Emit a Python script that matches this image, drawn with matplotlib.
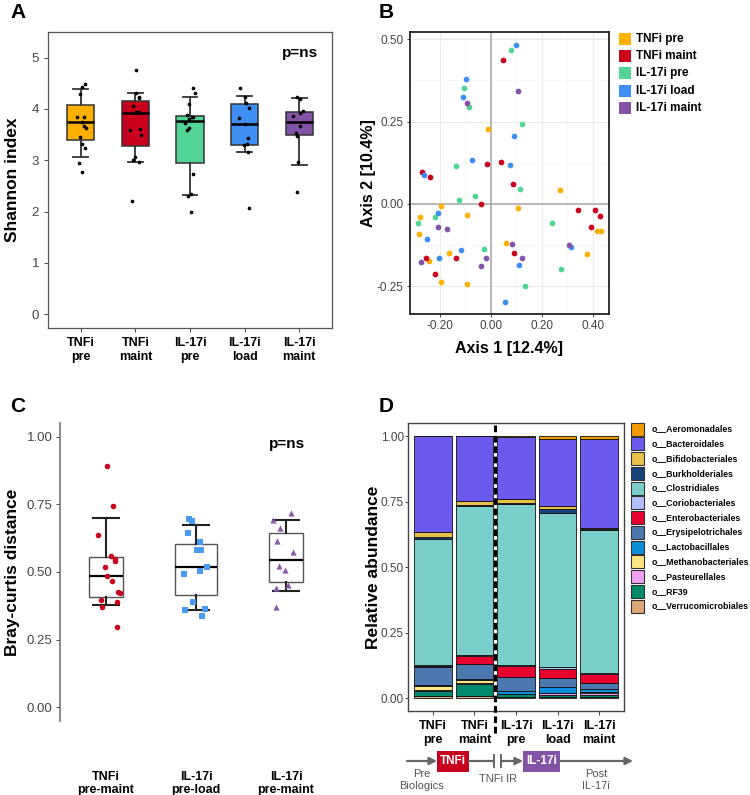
import matplotlib
matplotlib.use('Agg')
import matplotlib.pyplot as plt
import numpy as np
from matplotlib.patches import Rectangle

plt.rcParams['font.family'] = ['Liberation Sans', 'DejaVu Sans']

# ---------------- DATA ----------------
# Panel A: Shannon index
groups_A = ["TNFi\npre", "TNFi\nmaint", "IL-17i\npre", "IL-17i\nload", "IL-17i\nmaint"]
colors_A = ["#FDB000", "#C8001E", "#52D494", "#3F8EF2", "#8453A8"]
q1_A = [3.39, 3.28, 2.94, 3.30, 3.49]
med_A = [3.74, 3.92, 3.77, 3.70, 3.75]
q3_A = [4.07, 4.15, 3.87, 4.09, 3.95]
wlo_A = [3.07, 2.96, 2.32, 3.17, 2.90]
whi_A = [4.39, 4.31, 4.24, 4.26, 4.21]

shannon_tnfi_pre = [4.49, 4.42, 4.29, 3.84, 3.84, 3.74, 3.66, 3.62, 3.46, 3.32, 3.24, 2.95, 2.77]
jit_tnfi_pre = [0.08, 0.02, -0.02, -0.06, 0.05, 0.02, 0.05, 0.09, -0.01, 0.03, 0.08, -0.04, 0.02]
shannon_tnfi_maint = [4.75, 4.31, 4.24, 4.21, 4.06, 3.95, 3.95, 3.59, 3.61, 3.49, 3.07, 3.01, 2.96, 2.20]
jit_tnfi_maint = [0.01, 0.02, 0.06, 0.07, -0.05, 0.01, 0.07, -0.10, 0.09, 0.10, 0.0, -0.04, 0.06, -0.07]
shannon_il17_pre = [4.40, 4.31, 4.09, 3.89, 3.84, 3.85, 3.80, 3.72, 3.63, 3.59, 2.73, 2.34, 2.30, 1.99]
jit_il17_pre = [0.06, 0.09, -0.01, -0.06, 0.03, 0.06, -0.02, -0.09, -0.01, -0.06, 0.05, 0.02, -0.03, 0.02]
shannon_il17_load = [4.40, 4.24, 4.11, 4.01, 3.83, 3.70, 3.43, 3.32, 3.29, 3.17, 2.06]
jit_il17_load = [-0.09, 0.01, 0.03, 0.08, -0.10, 0.01, 0.06, 0.04, -0.02, 0.06, 0.08]
shannon_il17_maint = [4.23, 4.20, 3.96, 3.92, 3.86, 3.66, 3.53, 3.48, 2.96, 2.39]
jit_il17_maint = [-0.05, 0.01, 0.06, 0.02, -0.11, 0.02, -0.06, -0.05, -0.03, -0.05]

# Panel B: PCoA
legend_B = ["TNFi pre", "TNFi maint", "IL-17i pre", "IL-17i load", "IL-17i maint"]
ax1_tnfi_pre = [-0.009, 0.272, -0.196, -0.277, -0.093, 0.108, -0.280, 0.060, -0.165, -0.241, -0.196, -0.092, 0.376, 0.417, 0.431]
ax2_tnfi_pre = [0.226, 0.041, -0.008, -0.041, -0.033, -0.014, -0.093, -0.118, -0.149, -0.175, -0.239, -0.245, -0.152, -0.084, -0.082]
ax1_tnfi_maint = [0.050, -0.016, 0.039, 0.086, -0.268, -0.238, -0.037, 0.341, 0.410, 0.427, 0.393, 0.093, -0.137, -0.255, -0.217]
ax2_tnfi_maint = [0.438, 0.122, 0.126, 0.059, 0.096, 0.081, 0.000, -0.018, -0.018, -0.036, -0.071, -0.149, -0.164, -0.165, -0.214]
ax1_il17_pre = [0.081, -0.103, -0.084, 0.124, -0.137, -0.060, -0.125, 0.114, -0.284, -0.218, -0.027, 0.239, 0.275, 0.133]
ax2_il17_pre = [0.467, 0.353, 0.295, 0.243, 0.114, 0.025, 0.010, 0.046, -0.057, -0.041, -0.138, -0.057, -0.197, -0.249]
ax1_il17_load = [0.098, -0.095, -0.110, 0.093, -0.072, 0.077, -0.261, -0.207, -0.251, -0.116, -0.204, 0.110, 0.315, 0.055]
ax2_il17_load = [0.484, 0.378, 0.323, 0.206, 0.133, 0.119, 0.086, -0.027, -0.106, -0.142, -0.164, -0.187, -0.132, -0.298]
ax1_il17_maint = [0.107, -0.094, -0.208, -0.170, 0.084, 0.122, -0.017, -0.038, -0.271, 0.307]
ax2_il17_maint = [0.342, 0.305, -0.072, -0.078, -0.123, -0.164, -0.164, -0.189, -0.177, -0.126]

# Panel C: Bray-Curtis
groups_C = ["TNFi\npre-maint", "IL-17i\npre-load", "IL-17i\npre-maint"]
colors_C = ["#C8001E", "#4A9BF0", "#8A5AAA"]
markers_C = ["o", "s", "^"]
q1_C = [0.409, 0.416, 0.462]
med_C = [0.485, 0.517, 0.544]
q3_C = [0.557, 0.602, 0.645]
wlo_C = [0.379, 0.358, 0.431]
whi_C = [0.701, 0.674, 0.692]
bc_tnfi = [0.892, 0.744, 0.637, 0.560, 0.549, 0.542, 0.517, 0.485, 0.467, 0.425, 0.424, 0.398, 0.389, 0.371, 0.298]
jit_bc_tnfi = [0.015, 0.074, -0.085, 0.056, 0.104, 0.104, -0.007, 0.015, 0.067, 0.133, 0.152, -0.056, 0.122, -0.044, 0.122]
bc_il17_load = [0.697, 0.687, 0.644, 0.611, 0.583, 0.581, 0.518, 0.502, 0.494, 0.390, 0.361, 0.362, 0.337]
jit_bc_il17_load = [-0.078, -0.048, -0.085, 0.048, 0.007, 0.059, 0.126, 0.044, -0.137, -0.037, -0.126, 0.096, 0.067]
bc_il17_maint = [0.693, 0.718, 0.661, 0.615, 0.573, 0.522, 0.506, 0.451, 0.441, 0.371]
jit_bc_il17_maint = [-0.144, 0.056, -0.070, -0.100, 0.081, -0.078, -0.007, 0.019, -0.115, -0.115]

# Panel D: relative abundance (bars: TNFi pre, TNFi maint, IL-17i pre, IL-17i load, IL-17i maint)
taxa = ["o__Aeromonadales", "o__Bacteroidales", "o__Bifidobacteriales", "o__Burkholderiales",
        "o__Clostridiales", "o__Coriobacteriales", "o__Enterobacteriales", "o__Erysipelotrichales",
        "o__Lactobacillales", "o__Methanobacteriales", "o__Pasteurellales", "o__RF39",
        "o__Verrucomicrobiales"]
taxa_colors = ["#F29B00", "#6C5AEE", "#E8C24A", "#15427A", "#7ACFCB", "#B3BEFF", "#E8002F",
               "#4A78AF", "#0A90D8", "#FFE680", "#F0A0F0", "#00896A", "#DDA877"]
aeromonadales = [0.000, 0.000, 0.003, 0.010, 0.012]
bacteroidales = [0.367, 0.249, 0.235, 0.257, 0.340]
bifidobacteriales = [0.018, 0.012, 0.017, 0.010, 0.002]
burkholderiales = [0.007, 0.006, 0.005, 0.015, 0.005]
clostridiales = [0.481, 0.567, 0.611, 0.588, 0.543]
coriobacteriales = [0.003, 0.004, 0.004, 0.008, 0.006]
enterobacteriales = [0.003, 0.032, 0.045, 0.035, 0.032]
erysipelotrichales = [0.070, 0.055, 0.050, 0.033, 0.025]
lactobacillales = [0.004, 0.004, 0.012, 0.022, 0.012]
methanobacteriales = [0.015, 0.012, 0.001, 0.003, 0.002]
pasteurellales = [0.002, 0.004, 0.002, 0.005, 0.007]
rf39 = [0.022, 0.045, 0.008, 0.008, 0.008]
verrucomicrobiales = [0.008, 0.010, 0.007, 0.006, 0.006]

# ---------------- FIGURE ----------------
W, H = 750, 795
fig = plt.figure(figsize=(W / 100, H / 100), dpi=100)


def ax_px(x0, y0, x1, y1):
    return fig.add_axes([x0 / W, 1 - y1 / H, (x1 - x0) / W, (y1 - y0) / H])


TICK_C = "#444444"
LBL_FS = 12.5

# ---------- Panel A ----------
axA = ax_px(48, 32, 332, 328)
posA = np.arange(1, 6)
statsA = [dict(q1=a, med=b, q3=c, whislo=d, whishi=e, fliers=[])
          for a, b, c, d, e in zip(q1_A, med_A, q3_A, wlo_A, whi_A)]
bpA = axA.bxp(statsA, positions=posA, widths=0.5, patch_artist=True, capwidths=0.27,
              boxprops=dict(edgecolor="#333333", linewidth=1.1),
              medianprops=dict(color="black", linewidth=1.8),
              whiskerprops=dict(color="#333333", linewidth=1.3),
              capprops=dict(color="#333333", linewidth=1.3), zorder=2)
for patch, c in zip(bpA["boxes"], colors_A):
    patch.set_facecolor(c)
pointsA = [(shannon_tnfi_pre, jit_tnfi_pre), (shannon_tnfi_maint, jit_tnfi_maint),
           (shannon_il17_pre, jit_il17_pre), (shannon_il17_load, jit_il17_load),
           (shannon_il17_maint, jit_il17_maint)]
for p, (vals, jit) in zip(posA, pointsA):
    axA.scatter(p + np.array(jit), vals, s=7, color="black", zorder=4, linewidths=0)
axA.set_xlim(0.4, 5.6)
axA.set_ylim(-0.27, 5.5)
axA.set_yticks([0, 1, 2, 3, 4, 5])
axA.set_xticks(posA)
axA.set_xticklabels(groups_A, fontsize=9, fontweight="bold", color="black", linespacing=1.25)
axA.tick_params(axis="y", labelsize=9.5, colors=TICK_C, length=3, width=0.7)
axA.tick_params(axis="x", colors=TICK_C, length=3, width=0.7, labelcolor="black")
for s in axA.spines.values():
    s.set_color("#555555")
    s.set_linewidth(0.9)
axA.text(0.95, 0.93, "p=ns", transform=axA.transAxes, ha="right", va="center",
         fontsize=11, fontweight="bold")

# ---------- Panel B ----------
axB = ax_px(410, 32, 609, 314)
axB.set_xlim(-0.316, 0.464)
axB.set_ylim(-0.335, 0.522)
axB.set_xticks([-0.2, 0.0, 0.2, 0.4])
axB.set_xticklabels(["-0.20", "0.00", "0.20", "0.40"])
axB.set_yticks([-0.25, 0.0, 0.25, 0.5])
axB.set_yticklabels(["-0.25", "0.00", "0.25", "0.50"])
axB.set_xticks([-0.3, -0.1, 0.1, 0.3], minor=True)
axB.set_yticks([-0.125, 0.125, 0.375], minor=True)
axB.grid(True, which="major", color="#EBEBEB", linewidth=0.8, zorder=0)
axB.grid(True, which="minor", color="#F4F4F4", linewidth=0.5, zorder=0)
axB.set_axisbelow(True)
axB.axhline(0, color="#A8A8A8", linewidth=1.1, zorder=1)
axB.axvline(0, color="#A8A8A8", linewidth=1.1, zorder=1)
pcoa = [(ax1_tnfi_pre, ax2_tnfi_pre), (ax1_tnfi_maint, ax2_tnfi_maint),
        (ax1_il17_pre, ax2_il17_pre), (ax1_il17_load, ax2_il17_load),
        (ax1_il17_maint, ax2_il17_maint)]
for (xs, ys), c in zip(pcoa, colors_A):
    axB.scatter(xs, ys, s=17, color=c, linewidths=0, zorder=3)
axB.tick_params(which="major", labelsize=8.5, colors=TICK_C, length=2.5, width=0.7, pad=2)
axB.tick_params(which="minor", length=0)
for s in axB.spines.values():
    s.set_color("#222222")
    s.set_linewidth(1.3)

# ---------- Panel C ----------
axC = ax_px(60, 423, 332, 721)
posC = np.arange(1, 4)
statsC = [dict(q1=a, med=b, q3=c, whislo=d, whishi=e, fliers=[])
          for a, b, c, d, e in zip(q1_C, med_C, q3_C, wlo_C, whi_C)]
widthsC = [0.38, 0.47, 0.37]
axC.bxp(statsC, positions=posC, widths=widthsC, patch_artist=True, capwidths=0.28,
        boxprops=dict(facecolor="white", edgecolor="#555555", linewidth=1.0),
        medianprops=dict(color="black", linewidth=1.6),
        whiskerprops=dict(color="#222222", linewidth=1.5),
        capprops=dict(color="#222222", linewidth=1.5), zorder=2)
pointsC = [(bc_tnfi, jit_bc_tnfi), (bc_il17_load, jit_bc_il17_load), (bc_il17_maint, jit_bc_il17_maint)]
for p, (vals, jit), c, m in zip(posC, pointsC, colors_C, markers_C):
    axC.scatter(p + np.array(jit), vals, s=16 if m != "^" else 20, color=c, marker=m,
                linewidths=0, zorder=4)
axC.set_xlim(0.49, 3.51)
axC.set_ylim(-0.05, 1.05)
axC.set_yticks([0.0, 0.25, 0.5, 0.75, 1.0])
axC.set_yticklabels(["0.00", "0.25", "0.50", "0.75", "1.00"])
axC.set_xticks(posC)
axC.set_xticklabels(groups_C, fontsize=9, fontweight="bold", linespacing=1.12)
axC.tick_params(axis="y", labelsize=9.5, colors=TICK_C, length=3, width=0.7, pad=2.5)
axC.tick_params(axis="x", length=0, pad=36, labelcolor="black")
for k in ["top", "right", "bottom"]:
    axC.spines[k].set_visible(False)
axC.spines["left"].set_color("#777777")
axC.spines["left"].set_linewidth(1.2)
axC.text(0.90, 0.93, "p=ns", transform=axC.transAxes, ha="right", va="center",
         fontsize=11, fontweight="bold")

# ---------- Panel D ----------
axD = ax_px(408, 423, 624, 711)
posD = np.arange(1, 6)
stack_series = [verrucomicrobiales, rf39, pasteurellales, methanobacteriales, lactobacillales,
                erysipelotrichales, enterobacteriales, coriobacteriales, clostridiales,
                burkholderiales, bifidobacteriales, bacteroidales, aeromonadales]
stack_colors = taxa_colors[::-1]
bottom = np.zeros(5)
for vals, c in zip(stack_series, stack_colors):
    axD.bar(posD, vals, bottom=bottom, width=0.9, color=c, edgecolor="#111111",
            linewidth=0.6, zorder=2)
    bottom += np.array(vals)
axD.plot([2.5, 2.5], [-0.13, 1.05], color="black", linestyle=(0, (2.2, 1.2)),
         linewidth=2.2, clip_on=False, zorder=5)
axD.set_xlim(0.4, 5.6)
axD.set_ylim(-0.048, 1.05)
axD.set_yticks([0.0, 0.25, 0.5, 0.75, 1.0])
axD.set_yticklabels(["0.00", "0.25", "0.50", "0.75", "1.00"])
axD.set_xticks(posD)
axD.set_xticklabels(groups_A, fontsize=9, fontweight="bold", linespacing=1.25)
axD.tick_params(axis="y", labelsize=8.5, colors=TICK_C, length=2, width=0.7, pad=1)
axD.tick_params(axis="x", colors=TICK_C, length=3, width=0.7, labelcolor="black")
for s in axD.spines.values():
    s.set_color("#444444")
    s.set_linewidth(1.0)

# ---------- Overlay (labels, legends, timeline) ----------
axo = fig.add_axes([0, 0, 1, 1], zorder=10)
axo.set_xlim(0, W)
axo.set_ylim(H, 0)
axo.axis("off")

for lbl, (x, y) in zip("ABCD", [(18, 13), (386, 13), (18, 406), (386, 406)]):
    axo.text(x, y, lbl, fontsize=15, fontweight="bold", ha="center", va="center")

axo.text(13, 180, "Shannon index", rotation=90, fontsize=LBL_FS, fontweight="bold",
         ha="center", va="center")
axo.text(368, 173, "Axis 2 [10.4%]", rotation=90, fontsize=11.5, fontweight="bold",
         ha="center", va="center")
axo.text(509, 348, "Axis 1 [12.4%]", fontsize=11.5, fontweight="bold", ha="center", va="center")
axo.text(13, 572, "Bray-curtis distance", rotation=90, fontsize=LBL_FS, fontweight="bold",
         ha="center", va="center")
axo.text(373, 567, "Relative abundance", rotation=90, fontsize=LBL_FS, fontweight="bold",
         ha="center", va="center")

# Legend B
for i, (name, c) in enumerate(zip(legend_B, colors_A)):
    yc = 39 + i * 17.2
    axo.add_patch(Rectangle((619, yc - 6), 12, 12, facecolor=c, edgecolor="none"))
    axo.text(636, yc, name, fontsize=8.5, fontweight="bold", ha="left", va="center")

# Legend D
for i, (name, c) in enumerate(zip(taxa, taxa_colors)):
    yc = 429 + i * 14.75
    axo.add_patch(Rectangle((631, yc - 6.5), 13, 13, facecolor=c, edgecolor="#333333",
                            linewidth=0.8))
    axo.text(652, yc, name, fontsize=6.3, fontweight="bold", ha="left", va="center")

# Timeline
GRAY = "#666666"
ty = 761
arrow = dict(arrowstyle="-|>", color=GRAY, lw=1.6, mutation_scale=11, shrinkA=0, shrinkB=0)
axo.annotate("", xy=(437, ty), xytext=(407, ty), arrowprops=arrow)
axo.add_patch(Rectangle((437, 751), 32, 21, facecolor="#C8001E", edgecolor="none"))
axo.text(453, ty + 0.5, "TNFi", color="white", fontsize=8.5, fontweight="bold",
         ha="center", va="center")
axo.plot([469, 494], [ty, ty], color=GRAY, lw=1.6)
axo.plot([494, 494], [755, 767], color=GRAY, lw=1.4)
axo.plot([501, 501], [755, 767], color=GRAY, lw=1.4)
axo.annotate("", xy=(523, ty), xytext=(501, ty), arrowprops=arrow)
axo.add_patch(Rectangle((523, 751), 37, 21, facecolor="#8453A8", edgecolor="none"))
axo.text(541.5, ty + 0.5, "IL-17i", color="white", fontsize=8.5, fontweight="bold",
         ha="center", va="center")
axo.annotate("", xy=(633, ty), xytext=(560, ty), arrowprops=arrow)
axo.text(422, 780, "Pre\nBiologics", color="#555555", fontsize=8, ha="center", va="center",
         linespacing=1.15)
axo.text(498, 779, "TNFi IR", color="#555555", fontsize=8, ha="center", va="center")
axo.text(596, 780, "Post\nIL-17i", color="#555555", fontsize=8, ha="center", va="center",
         linespacing=1.15)

fig.savefig("out.png", dpi=100)
